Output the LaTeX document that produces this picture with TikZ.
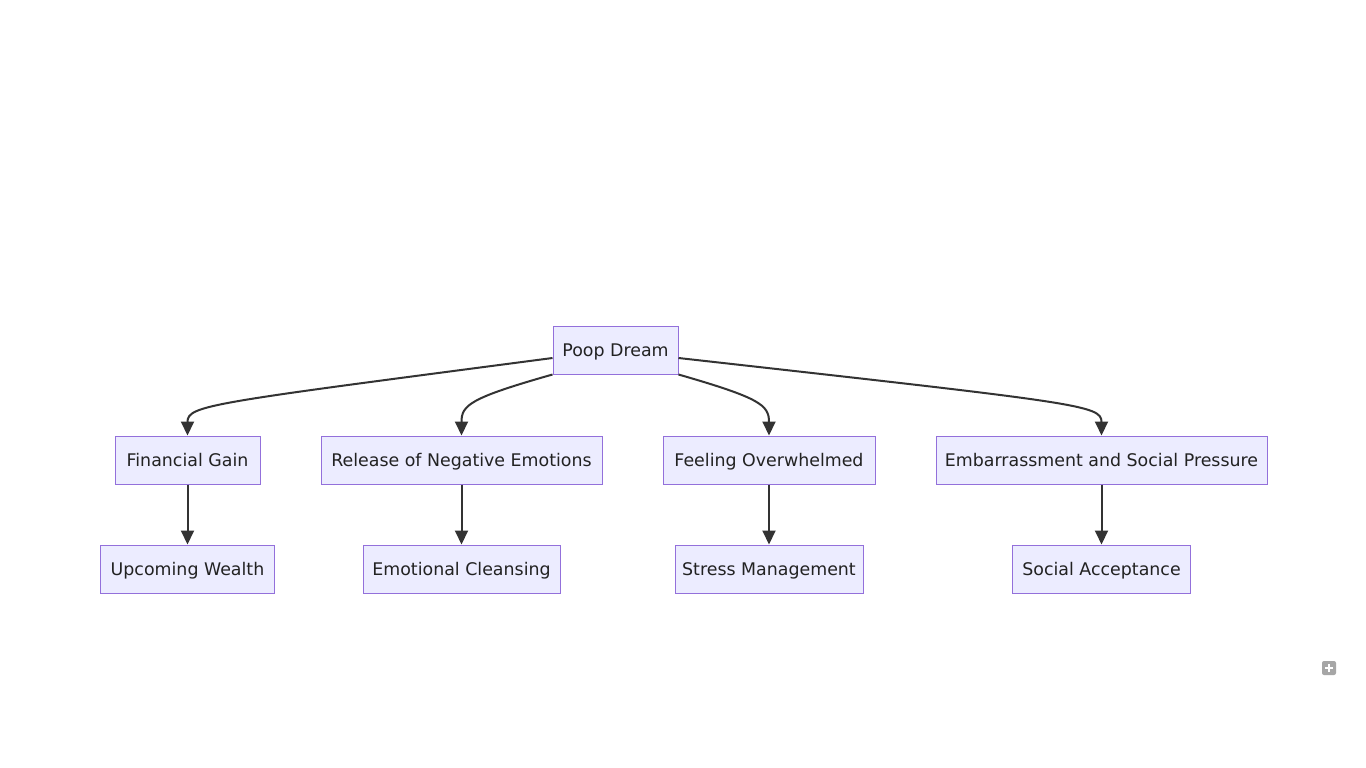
\documentclass[tikz,border=0pt]{standalone}
\usepackage{fontspec}
\setmainfont{DejaVu Sans}
\usetikzlibrary{arrows.meta}
\definecolor{nodefill}{HTML}{ECECFF}
\definecolor{nodeline}{HTML}{9370DB}
\definecolor{txt}{HTML}{222222}
\definecolor{edge}{HTML}{333333}
\begin{document}
\begin{tikzpicture}[x=1pt,y=-1pt,
  box/.style={draw=nodeline, fill=nodefill, line width=1pt, minimum height=48pt,
    inner sep=0pt, text=txt, text height=16pt, text depth=2.3pt,
    font=\fontsize{17.4}{20}\selectfont},
  link/.style={draw=edge, line width=2pt, -{Triangle[length=14pt,width=13pt]}}]
\useasboundingbox (0,0) rectangle (1366,768);
\fill[white] (0,0) rectangle (1366,768);
\node[box, minimum width=125pt] (root) at (615.5,350) {Poop Dream};
\node[box, minimum width=145pt] (fg) at (187.5,460) {Financial Gain};
\node[box, minimum width=281pt] (rn) at (461.5,460) {Release of Negative Emotions};
\node[box, minimum width=212pt] (fo) at (769,460) {Feeling Overwhelmed};
\node[box, minimum width=331pt] (es) at (1101.5,460) {Embarrassment and Social Pressure};
\node[box, minimum width=174pt] (uw) at (187.5,569) {Upcoming Wealth};
\node[box, minimum width=197pt] (ec) at (461.5,569) {Emotional Cleansing};
\node[box, minimum width=188pt] (sm) at (769,569) {Stress Management};
\node[box, minimum width=178pt] (sa) at (1101.5,569) {Social Acceptance};
\draw[link] ([yshift=-8pt]root.west) .. controls (210,403) and (187.5,405) .. (fg.north);
\draw[link] (root.south west) .. controls (470,398) and (461.5,405) .. (rn.north);
\draw[link] (root.south east) .. controls (760,398) and (769,405) .. (fo.north);
\draw[link] ([yshift=-8pt]root.east) .. controls (1080,403) and (1101.5,405) .. (es.north);
\draw[link] (fg) -- (uw);
\draw[link] (rn) -- (ec);
\draw[link] (fo) -- (sm);
\draw[link] (es) -- (sa);
\node[fill=black!35, rounded corners=2pt, minimum size=14pt, inner sep=0pt] (icon) at (1329,668) {};
\draw[white, line width=2pt] ([xshift=-4pt]icon.center) -- ([xshift=4pt]icon.center);
\draw[white, line width=2pt] ([yshift=-4pt]icon.center) -- ([yshift=4pt]icon.center);
\end{tikzpicture}
\end{document}
